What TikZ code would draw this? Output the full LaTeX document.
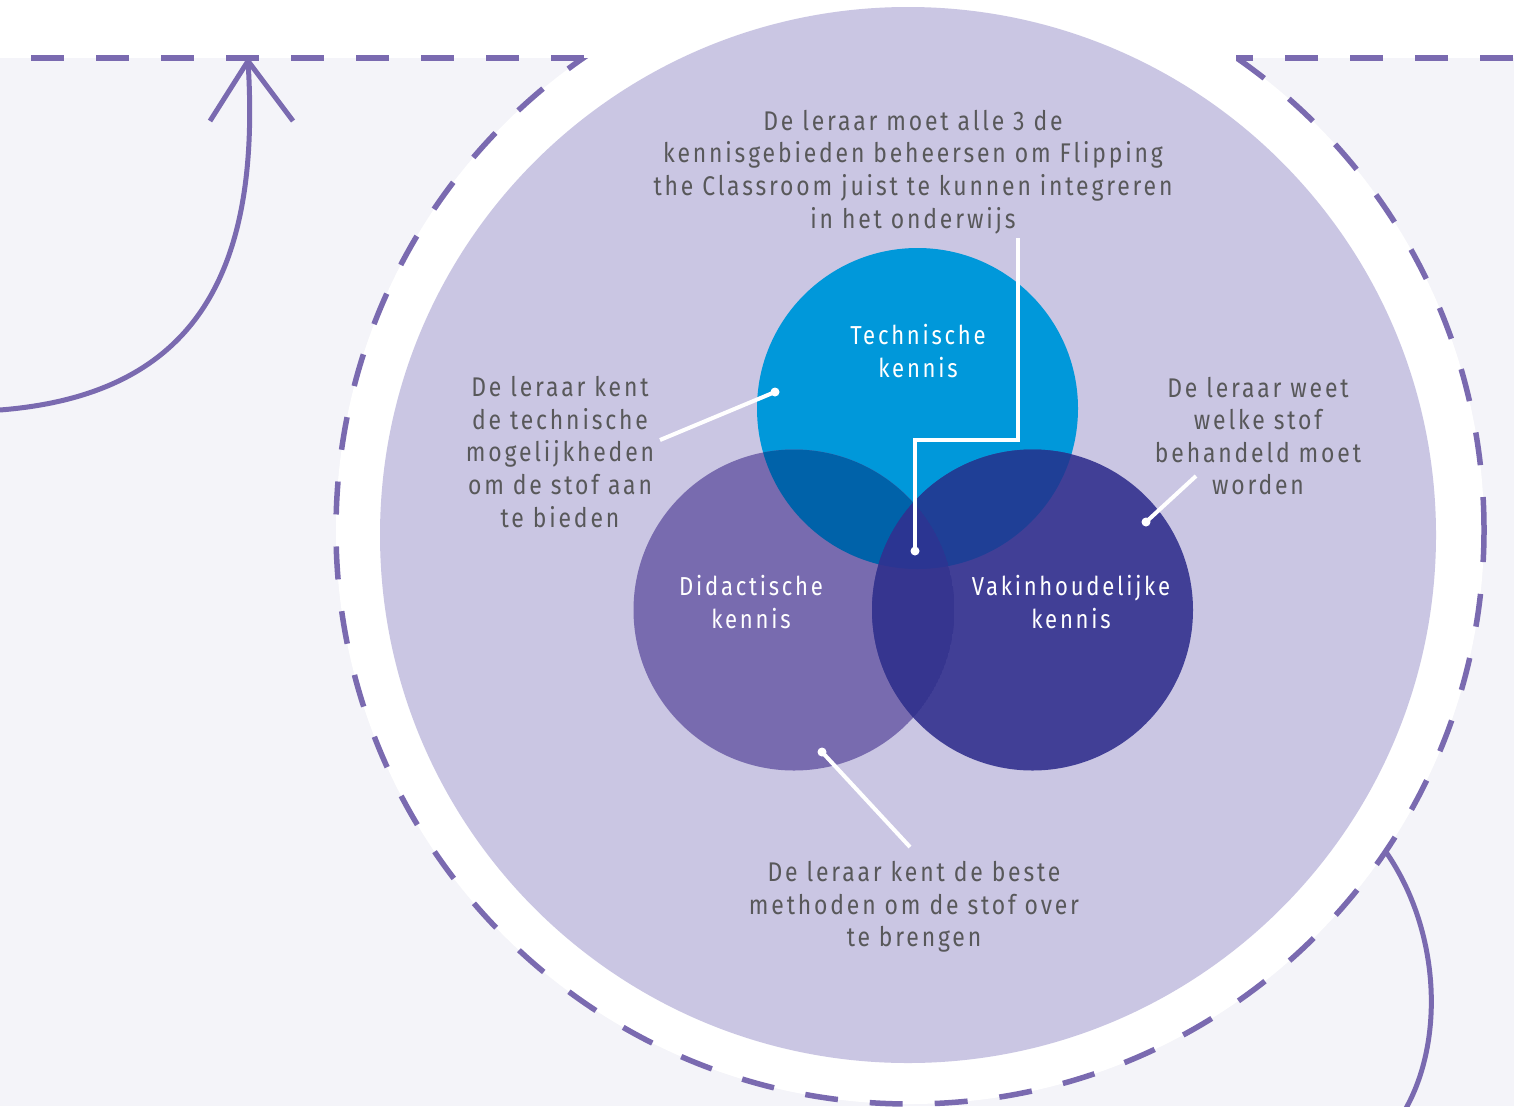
\documentclass[tikz,border=0pt]{standalone}
\usepackage{fontspec}
\IfFontExistsTF{Fira Sans Book}
  {\setmainfont{Fira Sans Book}[FakeStretch=0.85, LetterSpace=10.5]}
  {\setmainfont{Fira Sans}[FakeStretch=0.85, LetterSpace=10.5]}
\definecolor{bgl}{HTML}{F4F4F9}
\definecolor{dashc}{HTML}{7A6AB0}
\definecolor{inner}{HTML}{CAC6E3}
\definecolor{tech}{HTML}{0098DA}
\definecolor{did}{HTML}{786BAF}
\definecolor{vak}{HTML}{413F96}
\definecolor{td}{HTML}{0062A9}
\definecolor{tv}{HTML}{1F3F96}
\definecolor{dv}{HTML}{36358F}
\definecolor{tdv}{HTML}{2B3592}
\definecolor{txt}{HTML}{58585A}
\begin{document}
\begin{tikzpicture}[x=1pt,y=-1pt,
  dashline/.style={draw=dashc, line width=5.5pt, dash pattern=on 33pt off 32pt},
  curveline/.style={draw=dashc, line width=5pt},
  leader/.style={draw=white, line width=4pt},
  dotc/.style={fill=white},
  note/.style={text=txt, align=center, inner sep=0pt, font=\fontsize{27}{32.6}\selectfont},
  vlabel/.style={text=white, align=center, inner sep=0pt, font=\fontsize{26}{33}\selectfont},
  venn/.style={circle, inner sep=0pt, minimum size=321pt},
]
\useasboundingbox (0,0) rectangle (1514,1106);
% background
\fill[white] (0,0) rectangle (1514,1106);
\fill[bgl] (0,58) rectangle (1514,1106);
\coordinate (C) at (910,530);
\fill[white] (C) circle[radius=574pt];
% horizontal dashed lines
\draw[dashline] (31,58) -- (585,58);
\draw[dashline] (1513,58) -- (1236,58);
% dashed circle
\begin{scope}
  \clip (0,58) rectangle (1514,1106);
  \draw[dashline] (C) circle[radius=574pt];
\end{scope}
% inner circle
\fill[inner] (908,535) circle[radius=528pt];
% venn circles
\node[venn, fill=tech] (T) at (917.5,408.5) {};
\node[venn, fill=did] (D) at (794,610) {};
\node[venn, fill=vak] (V) at (1032.5,610) {};
\begin{scope}
  \clip (T.center) circle[radius=160.5pt];
  \fill[td] (D.center) circle[radius=160.5pt];
  \fill[tv] (V.center) circle[radius=160.5pt];
\end{scope}
\begin{scope}
  \clip (D.center) circle[radius=160.5pt];
  \clip (V.center) circle[radius=160.5pt];
  \fill[dv] (D.center) circle[radius=160.5pt];
\end{scope}
\begin{scope}
  \clip (T.center) circle[radius=160.5pt];
  \clip (D.center) circle[radius=160.5pt];
  \fill[tdv] (V.center) circle[radius=160.5pt];
\end{scope}
% venn labels
\node[vlabel] (lT) at (918,351) {Technische\\kennis};
\node[vlabel] (lD) at (751,602) {Didactische\\kennis};
\node[vlabel] (lV) at (1071,602) {Vakinhoudelijke\\kennis};
% notes
\node[note] (nTop) at (913,172) {De leraar moet alle 3 de\\kennisgebieden beheersen om Flipping\\the Classroom juist te kunnen integreren\\in het onderwijs};
\node[note] (nLeft) at (560,452) {De leraar kent\\de technische\\mogelijkheden\\om de stof aan\\te bieden};
\node[note] (nRight) at (1258,436) {De leraar weet\\welke stof\\behandeld moet\\worden};
\node[note] (nBot) at (914,907) {De leraar kent de beste\\methoden om de stof over\\te brengen};
% leader lines
\coordinate (pTop) at (915,551);
\coordinate (pLeft) at (775,392);
\coordinate (pRight) at (1146,522);
\coordinate (pBot) at (822,752);
\coordinate (sTop) at (1018,238);
\coordinate (sLeft) at (660,440);
\coordinate (sRight) at (1196,476);
\coordinate (sBot) at (910,847);
\draw[leader] (sTop) -- (1018,440) -- (915,440) -- (pTop);
\draw[leader] (sLeft) -- (pLeft);
\draw[leader] (sRight) -- (pRight);
\draw[leader] (sBot) -- (pBot);
\foreach \p in {pTop,pLeft,pRight,pBot} \fill[dotc] (\p) circle[radius=4.5pt];
% curves
\coordinate (a1s) at (0,410);
\coordinate (a1e) at (248,61);
\draw[curveline] (a1s) .. controls (190,395) and (262,280) .. (a1e);
\draw[curveline, line join=round] (210,121) -- (a1e) -- (293,121);
\coordinate (a2s) at (1386,852);
\coordinate (a2e) at (1405,1110);
\draw[curveline] (a2s) .. controls (1440,930) and (1445,1040) .. (a2e);
\end{tikzpicture}
\end{document}
